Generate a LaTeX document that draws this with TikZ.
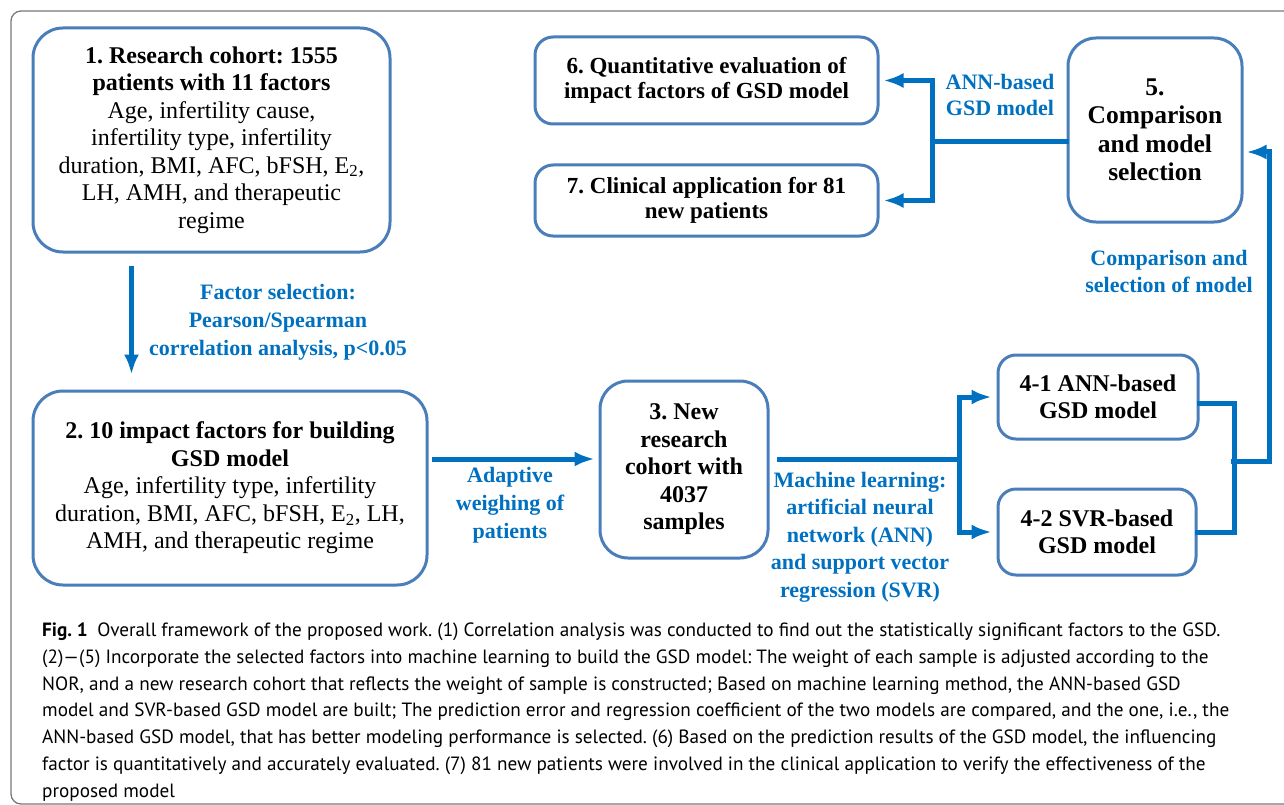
\documentclass[tikz,border=0pt]{standalone}
\usepackage{fontspec}
\setmainfont{Liberation Serif}
\newfontfamily\capfont[Ligatures=TeX]{PT Sans}
\usetikzlibrary{shapes,arrows.meta,positioning}
\definecolor{boxblue}{RGB}{74,126,187}
\definecolor{linkblue}{RGB}{0,112,192}
\definecolor{framegray}{RGB}{120,120,120}
\tikzstyle{block} = [rectangle, draw=boxblue, line width=3pt, align=center, inner sep=0pt, rounded corners=28pt, font=\bfseries\fontsize{24}{27.5}\selectfont]
\tikzstyle{line} = [draw=linkblue, line width=5pt, line cap=rect, -{Latex[length=20pt,width=15pt]}]
\tikzstyle{wire} = [draw=linkblue, line width=5pt, line cap=rect]
\tikzstyle{note} = [text=linkblue, align=center, inner sep=0pt, font=\bfseries\fontsize{22}{28}\selectfont]

\begin{document}
\frenchspacing
\begin{tikzpicture}[x=1pt, y=1pt]
        \useasboundingbox (0,0) rectangle (1284,-805);
        % outer frame
        \draw[framegray, line width=1.3pt, rounded corners=10pt] (1300,-11) -- (11,-11) -- (11,-804) -- (1300,-804);

        \node[block, minimum width=357, minimum height=224, rounded corners=30pt] (rcoh) at (211.5,-140)
            {1. Research cohort: 1555\\patients with 11 factors\\\mdseries Age, infertility cause,\\\mdseries infertility type, infertility\\\mdseries duration, BMI, AFC, bFSH, E\textsubscript{2},\\\mdseries LH, AMH, and therapeutic\\\mdseries regime};
        \node[block, below=136pt of rcoh, xshift=18.5pt, minimum width=394, minimum height=194, rounded corners=30pt] (impf)
            {2. 10 impact factors for building\\GSD model\\\mdseries Age, infertility type, infertility\\\mdseries duration, BMI, AFC, bFSH, E\textsubscript{2}, LH,\\\mdseries AMH, and therapeutic regime};
        \node[block, right=170pt of impf, yshift=18.5pt, minimum width=168, minimum height=177] (ncoh)
            {3. New\\research\\cohort with\\4037\\samples};
        \node[block, minimum width=200, minimum height=84, rounded corners=18pt] (annm) at (1098,-397)
            {4-1 ANN-based\\GSD model};
        \node[block, below=47pt of annm, xshift=-1pt, minimum width=198, minimum height=86, rounded corners=18pt] (svrm)
            {4-2 SVR-based\\GSD model};
        \node[block, minimum width=174, minimum height=184, font=\bfseries\fontsize{25.5}{28.5}\selectfont] (cmps) at (1155,-130)
            {5.\\Comparison\\and model\\selection};
        \node[block, minimum width=343, minimum height=87, rounded corners=18pt, font=\bfseries\fontsize{23}{24.5}\selectfont] (quev) at (706.5,-80.5)
            {6. Quantitative evaluation of\\impact factors of GSD model};
        \node[block, below=38pt of quev, minimum width=343, minimum height=71, rounded corners=18pt, font=\bfseries\fontsize{23}{24.5}\selectfont] (clin)
            {7. Clinical application for 81\\new patients};

        % arrow labels
        \node[note] (fsel) at (278,-322) {Factor selection:\\Pearson/Spearman\\correlation analysis, p<0.05};
        \node[note] (adpt) at (510,-505) {Adaptive\\weighing of\\patients};
        \node[note, font=\bfseries\fontsize{22}{27.5}\selectfont] (mlrn) at (860,-537) {Machine learning:\\artificial neural\\network (ANN)\\and support vector\\regression (SVR)};
        \node[note, font=\bfseries\fontsize{22}{27}\selectfont] (csel) at (1169,-271) {Comparison and\\selection of model};
        \node[note, font=\bfseries\fontsize{22}{26}\selectfont] (annl) at (1000,-95) {ANN-based\\GSD model};

        \coordinate (fork1) at ([xshift=190pt,yshift=10.5pt]ncoh.east);
        \coordinate (join1) at (1233,-461);
        \coordinate (fork2) at (932,-142);

        \path[line] ([xshift=100pt,yshift=-15pt]rcoh.south west) -- ([xshift=100pt,yshift=15pt]impf.north west);
        \path[line] ([xshift=6pt,yshift=29pt]impf.east) -- ([xshift=-4pt,yshift=10.5pt]ncoh.west);
        \draw[wire] ([xshift=10pt,yshift=10.5pt]ncoh.east) -- (fork1);
        \path[line] (fork1) |- ([xshift=-5pt]annm.west);
        \path[line] (fork1) |- ([xshift=-5pt]svrm.west);
        \draw[wire] ([yshift=-6pt]annm.east) -- ++(35,0) |- (svrm.east);
        \path[line] (join1) -- ++(36,0) |- ([xshift=3pt,yshift=-22pt]cmps.east);
        \draw[wire] ([yshift=-12pt]cmps.west) -- (fork2);
        \path[line] (fork2) |- ([xshift=4pt]quev.east);
        \path[line] (fork2) |- ([xshift=4pt]clin.east);

        % caption
        \node[anchor=north west, align=left, inner sep=0pt, font=\capfont\fontsize{19.2}{26.7}\selectfont] (cptn) at (42,-623)
            {\textbf{Fig. 1}\enspace Overall framework of the proposed work. (1) Correlation analysis was conducted to find out the statistically significant factors to the GSD.\\
             (2)---(5) Incorporate the selected factors into machine learning to build the GSD model: The weight of each sample is adjusted according to the\\
             NOR, and a new research cohort that reflects the weight of sample is constructed; Based on machine learning method, the ANN-based GSD\\
             model and SVR-based GSD model are built; The prediction error and regression coefficient of the two models are compared, and the one, i.e., the\\
             ANN-based GSD model, that has better modeling performance is selected. (6) Based on the prediction results of the GSD model, the influencing\\
             factor is quantitatively and accurately evaluated. (7) 81 new patients were involved in the clinical application to verify the effectiveness of the\\
             proposed model};
\end{tikzpicture}
\end{document}
